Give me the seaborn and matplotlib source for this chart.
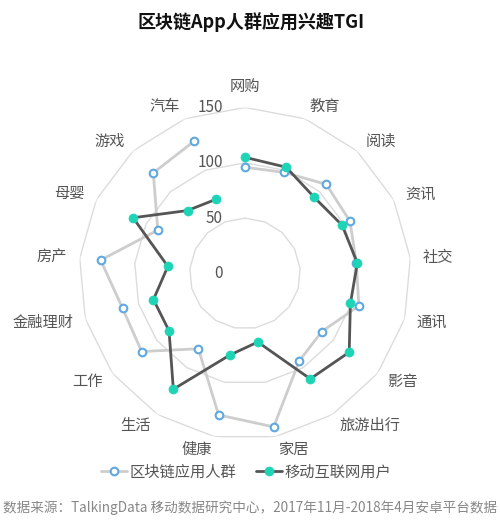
import numpy as np
import pandas as pd
import matplotlib
matplotlib.use("Agg")
import matplotlib.pyplot as plt
from matplotlib.transforms import ScaledTranslation
import seaborn as sns

categories = ["网购", "教育", "阅读", "资讯", "社交", "通讯", "影音", "旅游出行",
              "家居", "健康", "生活", "工作", "金融理财", "房产", "母婴", "游戏", "汽车"]
blockchain_users = [96, 98, 109, 106, 101, 107, 87, 93, 141, 130, 80, 117, 115, 131, 88, 123, 128]
mobile_users = [105, 103, 93, 98, 102, 99, 118, 112, 63, 75, 123, 86, 86, 70, 113, 77, 72]
ring_values = [50, 100, 150]
tick_values = [0, 50, 100, 150]

sns.set_theme(style="white")
plt.rcParams["font.family"] = ["Noto Sans CJK SC", "DejaVu Sans"]

BLUE = "#5fa8e0"
GREEN = "#1ed4b6"
LIGHT_LINE = "#cdcdcd"
DARK_LINE = "#555555"
TEXT = "#555555"

n = len(categories)
angles = np.arange(n) * 2 * np.pi / n
closed = np.append(angles, angles[0])

fig = plt.figure(figsize=(5.0, 5.25), dpi=100)
# polar area: centre (245, 273.5) px, radius 166 px
ax = fig.add_axes([79 / 500, (525 - 273.5 - 166) / 525, 332 / 500, 332 / 525],
                  projection="polar")
ax.set_theta_zero_location("N")
ax.set_theta_direction(-1)
ax.set_ylim(0, 150)
ax.set_xticks([])
ax.set_yticks([])
ax.grid(False)
ax.spines["polar"].set_visible(False)
ax.set_facecolor("none")

# polygon rings
for rv in ring_values:
    ax.plot(closed, [rv] * (n + 1), color="#dcdcdc", lw=1, zorder=1)

def closed_df(values):
    return pd.DataFrame({"theta": closed, "r": list(values) + [values[0]]})

sns.lineplot(data=closed_df(blockchain_users), x="theta", y="r", ax=ax, sort=False,
             color=LIGHT_LINE, lw=2, marker="o", markersize=5.5,
             markerfacecolor="white", markeredgecolor=BLUE, markeredgewidth=1.5,
             label="区块链应用人群", zorder=3)
sns.lineplot(data=closed_df(mobile_users), x="theta", y="r", ax=ax, sort=False,
             color=DARK_LINE, lw=2, marker="o", markersize=6.5,
             markerfacecolor=GREEN, markeredgecolor=GREEN, markeredgewidth=0.5,
             label="移动互联网用户", zorder=4)
ax.set_xlabel("")
ax.set_ylabel("")
ax.set_ylim(0, 150)

# radial value labels along the top axis
shift = ax.transData + ScaledTranslation(-0.22, 0, fig.dpi_scale_trans)
for tv in tick_values:
    ax.text(0, tv, str(tv), transform=shift, ha="right", va="center",
            fontsize=11, color=TEXT)

# category names
label_r = 161.5
for ang, name in zip(angles, categories):
    s = np.sin(ang)
    c = np.cos(ang)
    ha = "left" if s > 0.05 else ("right" if s < -0.05 else "center")
    va = "bottom" if c > 0.99 else "center"
    ax.text(ang, label_r, name, ha=ha, va=va, fontsize=11, color=TEXT, clip_on=False)

handles, labels = ax.get_legend_handles_labels()
if ax.get_legend() is not None:
    ax.get_legend().remove()
fig.legend(handles, labels, loc="center", bbox_to_anchor=(0.492, 1 - 472 / 525),
           ncol=2, frameon=False, fontsize=11, handlelength=1.7,
           handletextpad=0.15, columnspacing=1.3, labelcolor=TEXT)

fig.text(0.502, 1 - 22 / 525, "区块链App人群应用兴趣TGI", ha="center", va="center",
         fontsize=13, fontweight="bold", color="#111111")
fig.text(0.5, 1 - 508 / 525,
         "数据来源：TalkingData 移动数据研究中心，2017年11月-2018年4月安卓平台数据",
         ha="center", va="center", fontsize=9.8, color="#888888")

fig.savefig("out.png", dpi=100)
plt.close(fig)
